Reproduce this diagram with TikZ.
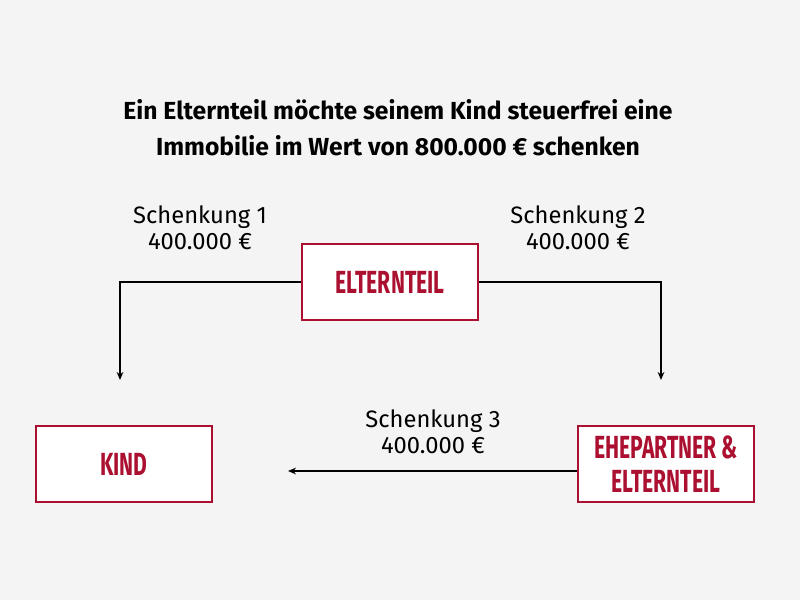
\documentclass[tikz,border=0pt]{standalone}
\usepackage{fontspec}
\setmainfont{Fira Sans}
\usetikzlibrary{arrows.meta}
\definecolor{bg}{HTML}{F4F4F4}
\definecolor{boxred}{HTML}{AC1030}
\newcommand{\boxtext}[1]{\scalebox{0.66}[1]{\bfseries #1}}
\tikzset{
  person/.style={draw=boxred,line width=1.5pt,fill=white,minimum width=132pt,minimum height=57pt,inner sep=0pt,text=boxred,align=center,font=\fontsize{24pt}{25pt}\selectfont},
  gift/.style={align=center,font=\fontsize{17.8pt}{19.5pt}\selectfont},
  flow/.style={line width=1.1pt,-{Stealth[length=6pt,width=5pt]}}
}
\begin{document}
\begin{tikzpicture}[x=0.75pt,y=-0.75pt]
\fill[bg](0,0) rectangle (800,600);
\useasboundingbox (0,0) rectangle (800,600);
\node[font=\fontsize{18.5pt}{27pt}\selectfont\bfseries,align=center] (title) at (398,128)
  {Ein Elternteil möchte seinem Kind steuerfrei eine\\Immobilie im Wert von 800.000 € schenken};
\node[person] (eltern) at (390,282) {\boxtext{ELTERNTEIL}};
\node[person] (kind) at (124,464) {\boxtext{KIND}};
\node[person] (ehe) at (666,464) {\boxtext{EHEPARTNER \&}\\\boxtext{ELTERNTEIL}};
\coordinate (k1) at (120,380);
\coordinate (e2) at (661,380);
\coordinate (k3) at (288,471);
% Schenkungen
\draw[flow](eltern.west) -| (k1);
\draw[flow](eltern.east) -| (e2);
\draw[flow](ehe.west |- k3) -- (k3);
\node[gift] (s1) at (200,228) {Schenkung 1\\400.000 €};
\node[gift] (s2) at (578,228) {Schenkung 2\\400.000 €};
\node[gift] (s3) at (433,432) {Schenkung 3\\400.000 €};
\end{tikzpicture}
\end{document}
